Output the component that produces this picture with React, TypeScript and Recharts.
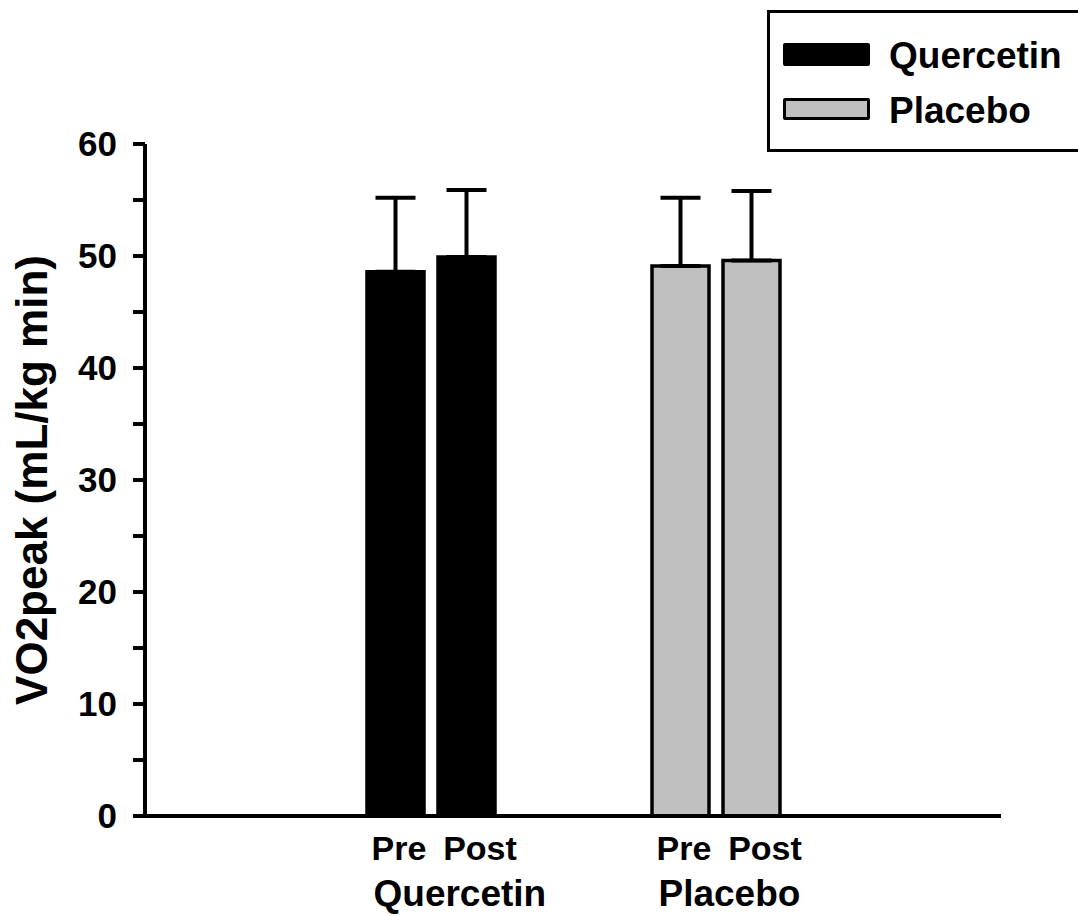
import React from 'react'
import { BarChart, Bar, XAxis, YAxis, ErrorBar, Cell, Legend } from 'recharts'

// data
const groups = ['Quercetin', 'Placebo']
const preMeans = [48.6, 49.1]
const postMeans = [49.9, 49.6]
const preSD = [6.6, 6.1]
const postSD = [6.0, 6.2]
const groupFills = ['#000000', '#c0c0c0']
const yTicks = [0, 5, 10, 15, 20, 25, 30, 35, 40, 45, 50, 55, 60]
const phaseLabels = ['Pre', 'Post']
const yTitle = 'VO2peak (mL/kg min)'

const FONT = '"Liberation Sans", Arial, Helvetica, sans-serif'
const BAR_SIZE = 57
const BAR_GAP = 14
const LINE_W = 4

const data = groups.map((g, i) => ({
  group: g,
  pre: preMeans[i],
  post: postMeans[i],
  preErr: [0, preSD[i]],
  postErr: [0, postSD[i]],
}))

function GroupTick(props: any) {
  const { x, y, payload } = props
  const half = (BAR_SIZE + BAR_GAP) / 2
  const txt = { fontFamily: FONT, fontWeight: 'bold', fill: '#000' } as any
  return (
    <g>
      <text x={x - half + 4} y={y + 44} textAnchor="middle" fontSize={34} {...txt}>{phaseLabels[0]}</text>
      <text x={x + half + 14} y={y + 44} textAnchor="middle" fontSize={34} {...txt}>{phaseLabels[1]}</text>
      <text x={x - 57} y={y + 90} textAnchor="start" fontSize={37} {...txt}>{payload.value}</text>
    </g>
  )
}

function LegendBox() {
  const label = (top: number): React.CSSProperties => ({
    position: 'absolute', left: 119, top, fontSize: 37, lineHeight: '37px', whiteSpace: 'nowrap',
  })
  return (
    <div style={{
      position: 'relative', boxSizing: 'border-box', width: 320, height: 142,
      border: '3px solid #000', background: '#fff', fontFamily: FONT, fontWeight: 'bold', color: '#000',
    }}>
      <div style={{ position: 'absolute', left: 13, top: 30, width: 87, height: 23, background: groupFills[0], borderRadius: 2 }} />
      <div style={label(24)}>{groups[0]}</div>
      <div style={{ position: 'absolute', left: 13, top: 85, width: 87, height: 22, boxSizing: 'border-box', background: groupFills[1], border: '3px solid #000', borderRadius: 2 }} />
      <div style={label(79)}>{groups[1]}</div>
    </div>
  )
}

export default function App() {
  return (
    <div style={{ position: 'absolute', left: 0, top: 0, width: 1078, height: 916, overflow: 'hidden', background: '#fff' }}>
      <BarChart
        width={1078}
        height={916}
        data={data}
        margin={{ top: 144, right: 77, left: 0, bottom: 0 }}
        barSize={BAR_SIZE}
        barGap={BAR_GAP}
      >
        <XAxis
          dataKey="group"
          height={100}
          padding={{ left: 143, right: 143 }}
          axisLine={{ stroke: '#000', strokeWidth: LINE_W }}
          tickLine={false}
          tickSize={0}
          tickMargin={0}
          tick={<GroupTick />}
          interval={0}
        />
        <YAxis
          width={145}
          domain={[0, 60]}
          ticks={yTicks}
          interval={0}
          tickSize={12}
          tickMargin={16}
          axisLine={{ stroke: '#000', strokeWidth: LINE_W }}
          tickLine={{ stroke: '#000', strokeWidth: LINE_W }}
          tick={{ fill: '#000', fontSize: 35, fontWeight: 'bold', fontFamily: FONT }}
          tickFormatter={(v: any) => (v % 10 === 0 ? String(v) : '')}
          label={{
            value: yTitle, angle: -90, position: 'center', dx: -41,
            style: { fill: '#000', fontSize: 44, fontWeight: 'bold', fontFamily: FONT, textAnchor: 'middle' },
          }}
        />
        <Legend
          layout="vertical"
          align="center"
          verticalAlign="middle"
          wrapperStyle={{ left: 767, top: 10, width: 320 }}
          content={() => <LegendBox />}
        />
        <Bar dataKey="pre" stroke="#000" strokeWidth={3.5} isAnimationActive={false}>
          {data.map((_, i) => <Cell key={i} fill={groupFills[i]} />)}
          <ErrorBar dataKey="preErr" direction="y" width={20} stroke="#000" strokeWidth={LINE_W} isAnimationActive={false} />
        </Bar>
        <Bar dataKey="post" stroke="#000" strokeWidth={3.5} isAnimationActive={false}>
          {data.map((_, i) => <Cell key={i} fill={groupFills[i]} />)}
          <ErrorBar dataKey="postErr" direction="y" width={20} stroke="#000" strokeWidth={LINE_W} isAnimationActive={false} />
        </Bar>
      </BarChart>
    </div>
  )
}
